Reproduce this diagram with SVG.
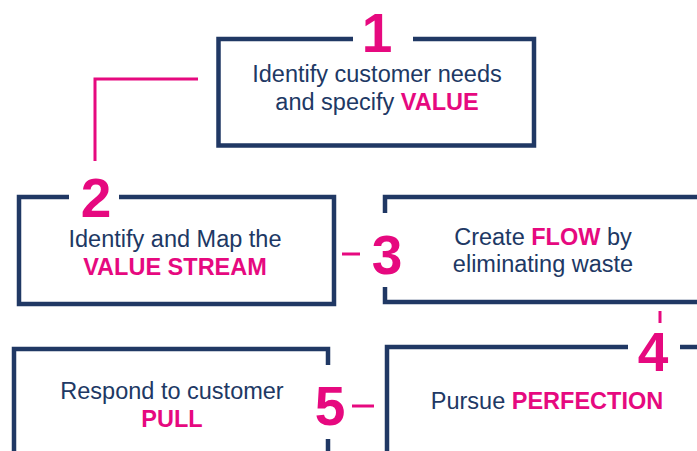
<svg xmlns="http://www.w3.org/2000/svg" width="697" height="451" viewBox="0 0 697 451">
<style>
.box{fill:none;stroke:#203864;stroke-width:4.5}
.con{fill:none;stroke:#E6097F;stroke-width:3}
.num{font-family:"Liberation Sans",Arial,sans-serif;font-weight:bold;font-size:55px;fill:#E6097F;text-anchor:middle}
.txt{font-family:"Liberation Sans",Arial,sans-serif;font-size:23.5px;fill:#203864;text-anchor:middle}
.hl{font-weight:bold;fill:#E6097F}
</style>
<rect width="697" height="451" fill="#fff"/>
<g id="connectors">
<path class="con" d="M198,79 H95 V161"/>
<path class="con" d="M342,254 H360"/>
<path class="con" d="M660,311 V323"/>
<path class="con" d="M352,406 H374"/>
</g>
<g id="node1">
<path class="box" d="M353,39 H218.5 V145.5 H534 V39 H413"/>
<text class="num" x="377" y="52">1</text>
<text class="txt" x="377" y="82">Identify customer needs</text>
<text class="txt" x="377" y="110">and specify <tspan class="hl">VALUE</tspan></text>
</g>
<g id="node2">
<path class="box" d="M69,197 H19 V304 H334 V197 H119"/>
<text class="num" x="96" y="217">2</text>
<text class="txt" x="175" y="247">Identify and Map the</text>
<text class="txt" x="175" y="275"><tspan class="hl">VALUE STREAM</tspan></text>
</g>
<g id="node3">
<path class="box" d="M385,213 V197 H702 M385,287 V302 H702"/>
<text class="num" x="387" y="274">3</text>
<text class="txt" x="543" y="245">Create <tspan class="hl">FLOW</tspan> by</text>
<text class="txt" x="543" y="272">eliminating waste</text>
</g>
<g id="node4">
<path class="box" d="M628,347 H387 V456 M680,347 H702"/>
<text class="num" x="653" y="371">4</text>
<text class="txt" x="547" y="409">Pursue <tspan class="hl">PERFECTION</tspan></text>
</g>
<g id="node5">
<path class="box" d="M328,365 V349 H14 V456 M328,439 V456"/>
<text class="num" x="330" y="425">5</text>
<text class="txt" x="172" y="399">Respond to customer</text>
<text class="txt" x="172" y="427"><tspan class="hl">PULL</tspan></text>
</g>
</svg>
